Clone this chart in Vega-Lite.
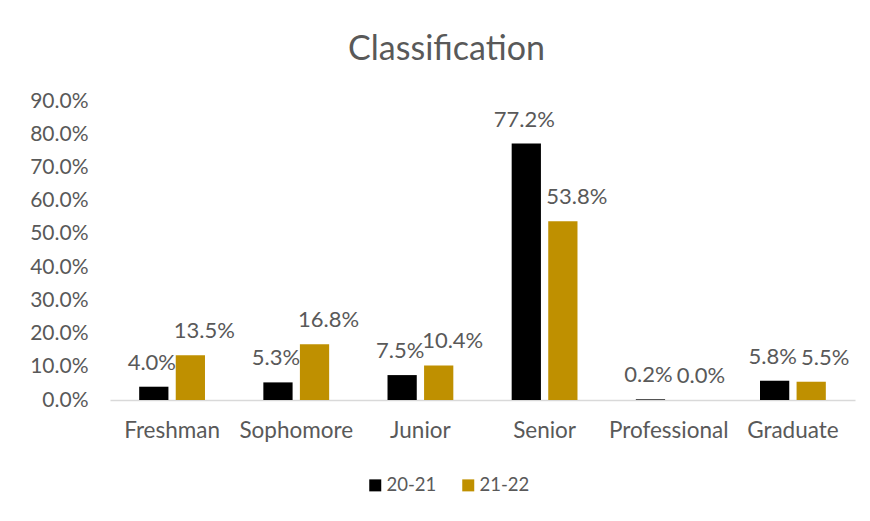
{
  "$schema": "https://vega.github.io/schema/vega-lite/v6.json",
  "width": 745,
  "height": 299,
  "autosize": {"type": "none"},
  "padding": {"left": 110, "top": 101, "right": 15, "bottom": 121},
  "background": "white",
  "title": {
    "text": "Classification",
    "font": "Lato",
    "fontSize": 34,
    "fontWeight": "normal",
    "color": "#595959",
    "anchor": "middle",
    "dx": -36,
    "offset": 23
  },
  "config": {
    "view": {"stroke": null},
    "font": "Lato"
  },
  "data": {
    "values": [
      {"category": "Freshman", "year": "20-21", "value": 0.040},
      {"category": "Freshman", "year": "21-22", "value": 0.135},
      {"category": "Sophomore", "year": "20-21", "value": 0.053},
      {"category": "Sophomore", "year": "21-22", "value": 0.168},
      {"category": "Junior", "year": "20-21", "value": 0.075},
      {"category": "Junior", "year": "21-22", "value": 0.104},
      {"category": "Senior", "year": "20-21", "value": 0.772},
      {"category": "Senior", "year": "21-22", "value": 0.538},
      {"category": "Professional", "year": "20-21", "value": 0.002},
      {"category": "Professional", "year": "21-22", "value": 0.000},
      {"category": "Graduate", "year": "20-21", "value": 0.058},
      {"category": "Graduate", "year": "21-22", "value": 0.055}
    ]
  },
  "encoding": {
    "x": {
      "field": "category",
      "type": "nominal",
      "sort": ["Freshman", "Sophomore", "Junior", "Senior", "Professional", "Graduate"],
      "scale": {"paddingInner": 0.47, "paddingOuter": 0.235},
      "axis": {
        "title": null,
        "labelAngle": 0,
        "labelFont": "Lato",
        "labelFontSize": 22.5,
        "labelColor": "#595959",
        "labelPadding": 19,
        "ticks": false,
        "domainColor": "#D9D9D9",
        "domainWidth": 1.5
      }
    },
    "xOffset": {
      "field": "year",
      "type": "nominal",
      "scale": {"paddingInner": 0.2, "paddingOuter": 0}
    },
    "y": {
      "field": "value",
      "type": "quantitative",
      "scale": {"domain": [0, 0.9], "nice": false},
      "axis": {
        "title": null,
        "format": ".1%",
        "values": [0, 0.1, 0.2, 0.3, 0.4, 0.5, 0.6, 0.7, 0.8, 0.9],
        "grid": false,
        "domain": false,
        "ticks": false,
        "labelFont": "Lato",
        "labelFontSize": 21,
        "labelColor": "#595959",
        "labelPadding": 22
      }
    }
  },
  "layer": [
    {
      "mark": {"type": "bar"},
      "encoding": {
        "color": {
          "field": "year",
          "type": "nominal",
          "scale": {"domain": ["20-21", "21-22"], "range": ["#000000", "#BF9000"]},
          "legend": {
            "title": null,
            "orient": "none",
            "legendX": 256,
            "legendY": 375,
            "direction": "horizontal",
            "symbolType": "square",
            "symbolSize": 144,
            "symbolStrokeWidth": 0,
            "symbolOffset": 0,
            "labelOffset": 2,
            "labelFont": "Lato",
            "labelFontSize": 18.5,
            "labelColor": "#595959",
            "columnPadding": 22
          }
        }
      }
    },
    {
      "transform": [{"filter": "datum.year === '20-21'"}],
      "mark": {
        "type": "text",
        "baseline": "alphabetic",
        "dy": -17,
        "dx": -2,
        "font": "Lato",
        "fontSize": 22,
        "color": "#595959"
      },
      "encoding": {
        "text": {"field": "value", "type": "quantitative", "format": ".1%"}
      }
    },
    {
      "transform": [{"filter": "datum.year === '21-22'"}],
      "mark": {
        "type": "text",
        "baseline": "alphabetic",
        "dy": -17,
        "dx": 14,
        "font": "Lato",
        "fontSize": 22,
        "color": "#595959"
      },
      "encoding": {
        "text": {"field": "value", "type": "quantitative", "format": ".1%"}
      }
    }
  ]
}
